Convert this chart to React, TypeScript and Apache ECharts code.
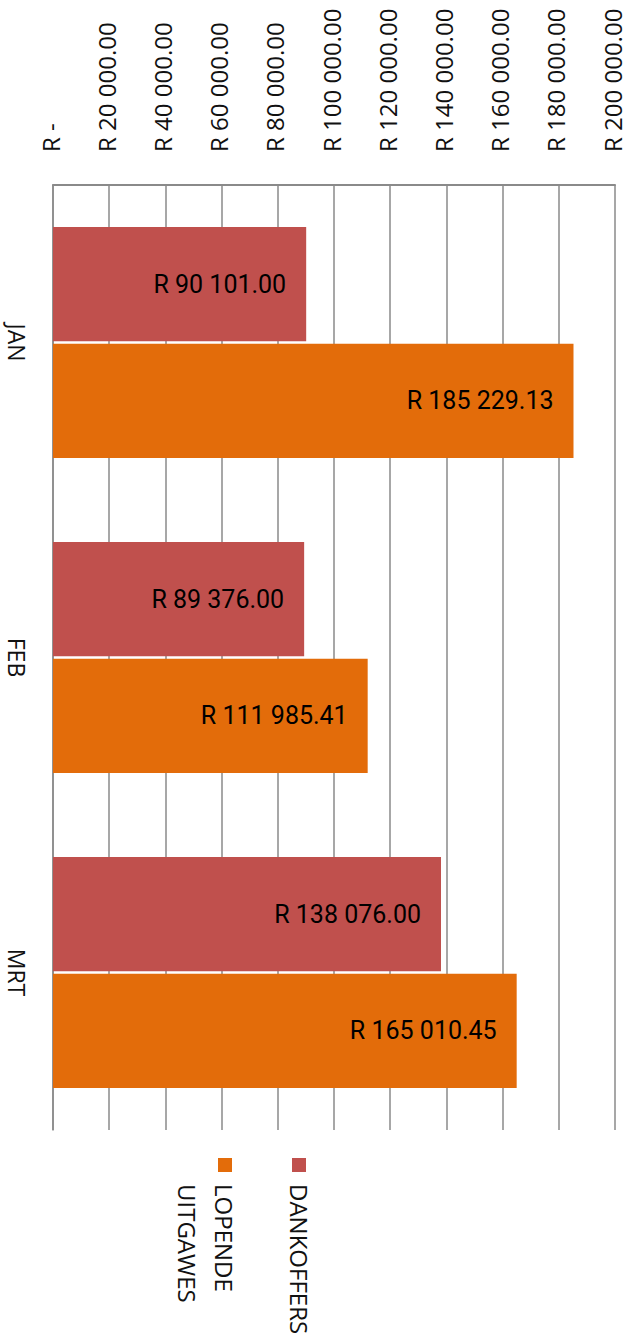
import React, { useEffect, useRef } from "react";
import * as echarts from "echarts";

const categories = ["JAN", "FEB", "MRT"];
const seriesNames = ["DANKOFFERS", "LOPENDE\nUITGAWES"];
const dankoffers = [90101.0, 89376.0, 138076.0];
const lopende = [185229.13, 111985.41, 165010.45];
const axisMin = 0;
const axisMax = 200000;
const axisStep = 20000;

const RED = "#C0504D";
const ORANGE = "#E36C0A";
const GRID = "#8a8a8a";
const LABEL_FONT = "'Open Sans', 'Noto Sans', sans-serif";
const DATA_FONT = "Roboto, 'Liberation Sans', sans-serif";

function fmtRand(v: number): string {
  if (v === 0) return "R -";
  const [i, d] = v.toFixed(2).split(".");
  return "R " + i.replace(/\B(?=(\d{3})+(?!\d))/g, " ") + "." + d;
}

export default function App() {
  const ref = useRef<HTMLDivElement>(null);
  useEffect(() => {
    if (!ref.current) return;
    const chart = echarts.init(ref.current, null, { renderer: "svg" });
    const dataLabel = {
      show: true,
      position: "insideRight",
      distance: 20,
      color: "#000",
      fontFamily: DATA_FONT,
      fontSize: 25,
      formatter: (p: any) => fmtRand(p.value),
    };
    const tickText = { color: "#111", fontFamily: LABEL_FONT, fontSize: 24 };
    chart.setOption({
      animation: false,
      backgroundColor: "#fff",
      grid: {
        left: 53,
        right: 15,
        top: 185,
        bottom: 206,
        containLabel: false,
        outerBoundsMode: "none",
      },
      xAxis: {
        type: "value",
        position: "top",
        min: axisMin,
        max: axisMax,
        interval: axisStep,
        axisLine: { show: true, lineStyle: { color: GRID, width: 2 } },
        axisTick: { show: false },
        splitLine: { show: true, lineStyle: { color: GRID, width: 1.5 } },
        axisLabel: {
          rotate: -90,
          margin: 33,
          ...tickText,
          padding: [8, 0, 0, 0],
          formatter: (v: number) =>
            v === 0 ? "{z|" + fmtRand(v) + "}" : "{n|" + fmtRand(v) + "}",
          rich: {
            n: { ...tickText, padding: [0, 0, 14, 0] },
            z: { ...tickText, padding: [0, 11, 14, 0] },
          },
        },
      },
      yAxis: {
        type: "category",
        data: categories,
        inverse: true,
        axisLine: { show: true, lineStyle: { color: GRID, width: 1.5 } },
        axisTick: { show: false },
        axisLabel: {
          rotate: -90,
          margin: 25,
          color: "#111",
          fontFamily: LABEL_FONT,
          fontSize: 23,
        },
      },
      series: [
        {
          name: seriesNames[0],
          type: "bar",
          data: dankoffers,
          barCategoryGap: "26.7%",
          barGap: "2%",
          itemStyle: { color: RED },
          label: dataLabel,
        },
        {
          name: seriesNames[1],
          type: "bar",
          data: lopende,
          barCategoryGap: "26.7%",
          barGap: "2%",
          itemStyle: { color: ORANGE },
          label: dataLabel,
        },
      ],
      graphic: [
        { type: "rect", shape: { x: 292, y: 1158, width: 14, height: 14 }, style: { fill: RED } },
        {
          type: "text",
          x: 299,
          y: 1184,
          rotation: -Math.PI / 2,
          style: {
            text: seriesNames[0],
            fill: "#111",
            font: `24px ${LABEL_FONT}`,
            align: "left",
            verticalAlign: "middle",
          },
        },
        { type: "rect", shape: { x: 218, y: 1158, width: 14, height: 14 }, style: { fill: ORANGE } },
        {
          type: "text",
          x: 206,
          y: 1184,
          rotation: -Math.PI / 2,
          style: {
            text: seriesNames[1],
            fill: "#111",
            font: `24px ${LABEL_FONT}`,
            lineHeight: 37,
            align: "left",
            verticalAlign: "middle",
          },
        },
      ],
    });
    return () => chart.dispose();
  }, []);
  return (
    <div
      ref={ref}
      style={{ position: "absolute", left: 0, top: 0, width: 630, height: 1336 }}
    />
  );
}
